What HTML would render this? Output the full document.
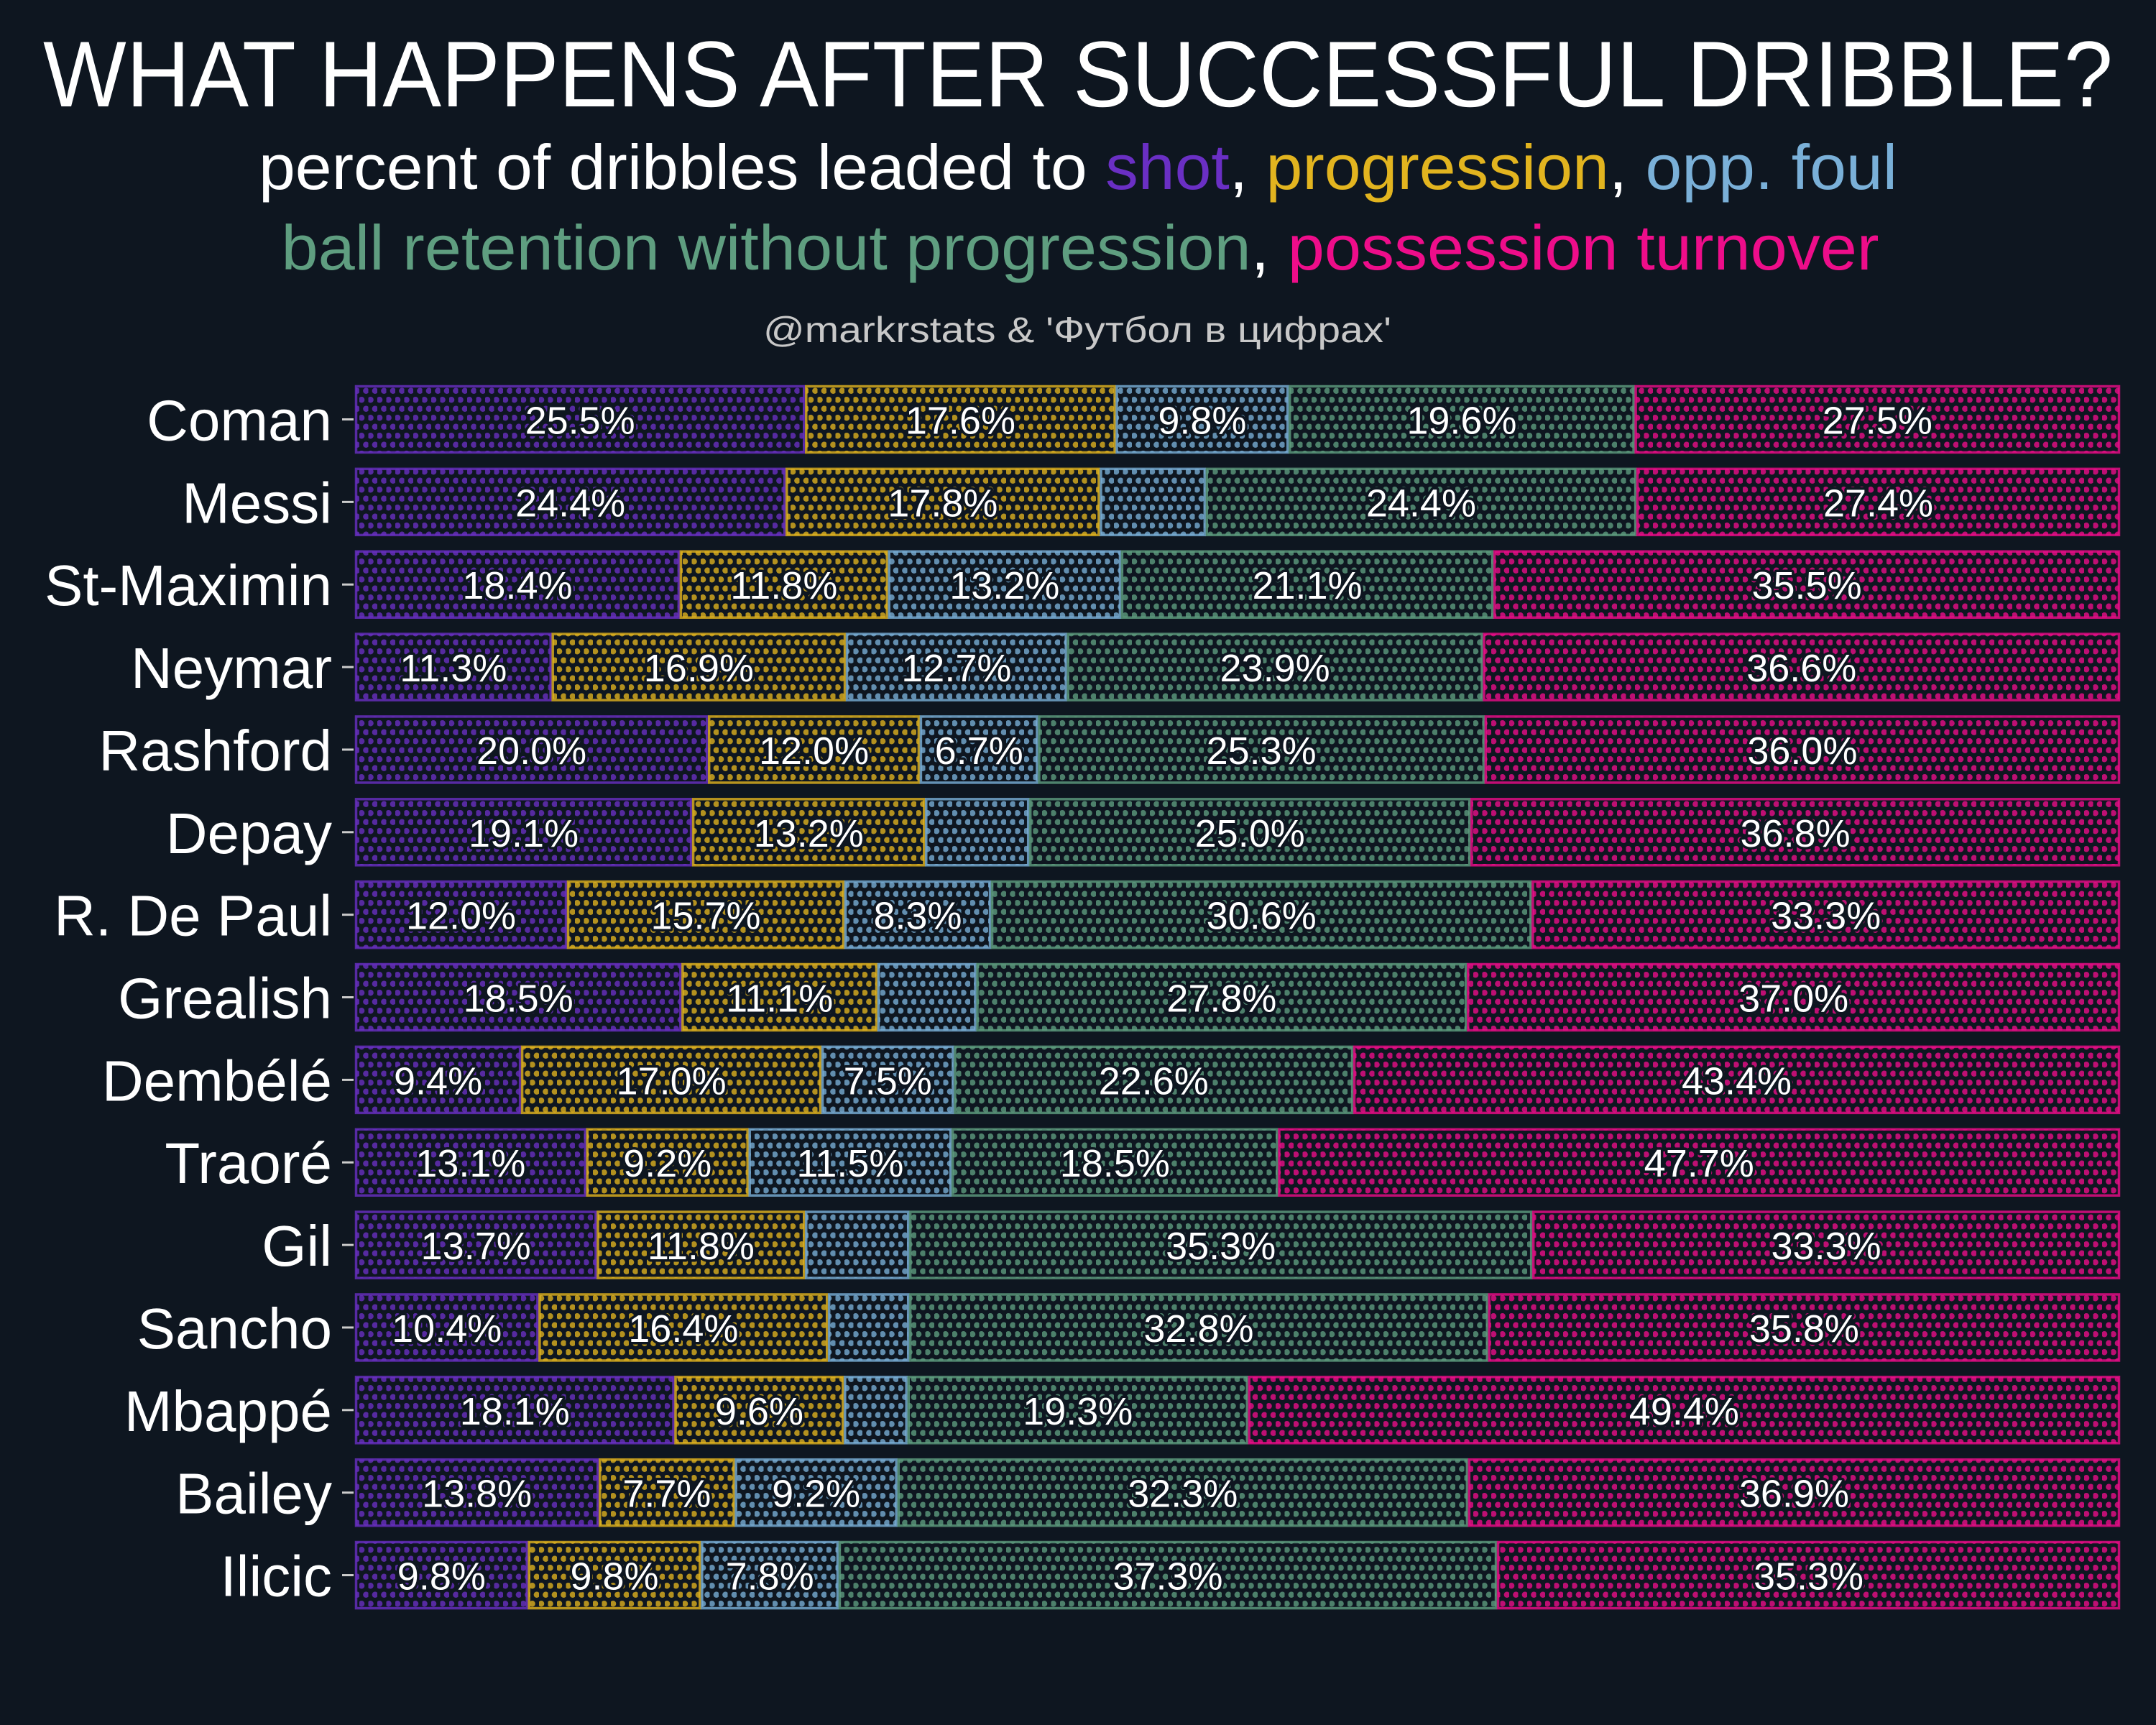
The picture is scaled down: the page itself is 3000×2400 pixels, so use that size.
<!DOCTYPE html>
<html><head><meta charset="utf-8"><style>
html,body{margin:0;padding:0;background:#0e1620;}
svg{display:block;}
text{font-family:"Liberation Sans","DejaVu Sans",sans-serif;}
</style></head><body>
<svg id="chart" width="3000" height="2400" viewBox="0 0 3000 2400" xmlns="http://www.w3.org/2000/svg">
<rect width="3000" height="2400" fill="#0e1620"/>
<defs id="defs"></defs>
<text x="1500" y="148" text-anchor="middle" font-size="130" fill="#ffffff" textLength="2880" lengthAdjust="spacingAndGlyphs">WHAT HAPPENS AFTER SUCCESSFUL DRIBBLE?</text>
<text x="1500" y="263" text-anchor="middle" font-size="88" fill="#ffffff" textLength="2280" lengthAdjust="spacingAndGlyphs">percent of dribbles leaded to <tspan fill="#6a2fc4">shot</tspan>, <tspan fill="#e2b41f">progression</tspan>, <tspan fill="#7ab0d8">opp. foul</tspan></text>
<text x="1503" y="375" text-anchor="middle" font-size="88" fill="#5f9e80" textLength="2223" lengthAdjust="spacingAndGlyphs">ball retention without progression<tspan fill="#ffffff">, </tspan><tspan fill="#ee0d8a">possession turnover</tspan></text>
<text x="1499" y="476" text-anchor="middle" font-size="50" fill="#c8c8c8" textLength="874" lengthAdjust="spacingAndGlyphs">@markrstats &amp; 'Футбол в цифрах'</text>
<g id="plot"></g>
</svg>
<script>
const players = ["Coman","Messi","St-Maximin","Neymar","Rashford","Depay","R. De Paul","Grealish","Dembélé","Traoré","Gil","Sancho","Mbappé","Bailey","Ilicic"];
const shot        = [25.5,24.4,18.4,11.3,20.0,19.1,12.0,18.5, 9.4,13.1,13.7,10.4,18.1,13.8, 9.8];
const progression = [17.6,17.8,11.8,16.9,12.0,13.2,15.7,11.1,17.0, 9.2,11.8,16.4, 9.6, 7.7, 9.8];
const oppFoul     = [ 9.8, 6.0,13.2,12.7, 6.7, 5.9, 8.3, 5.6, 7.5,11.5, 5.9, 4.6, 3.6, 9.2, 7.8];
const retention   = [19.6,24.4,21.1,23.9,25.3,25.0,30.6,27.8,22.6,18.5,35.3,32.8,19.3,32.3,37.3];
const turnover    = [27.5,27.4,35.5,36.6,36.0,36.8,33.3,37.0,43.4,47.7,33.3,35.8,49.4,36.9,35.3];
const seriesNames = ["shot","progression","opp-foul","retention","turnover"];

const colors = ["#6a2fc4","#e2b41f","#7ab0d8","#5f9e80","#ee0d8a"];
const NS = "http://www.w3.org/2000/svg";
const defs = document.getElementById('defs');
const plot = document.getElementById('plot');
const X0 = 494, X1 = 2950, TOP = 536, PITCH = 114.86, BH = 95;
const xScale = (v, total) => X0 + v / total * (X1 - X0);
const yScale = i => TOP + i * PITCH;

colors.forEach((c, k) => {
  const p = document.createElementNS(NS, 'pattern');
  p.setAttribute('id', 'dots' + k);
  p.setAttribute('patternUnits', 'userSpaceOnUse');
  p.setAttribute('width', '12.5'); p.setAttribute('height', '25');
  p.innerHTML = `<rect width="12.5" height="25" fill="#0e1620"/><circle cx="3.1" cy="6.25" r="4.2" fill="${c}" fill-opacity="0.78"/><circle cx="9.35" cy="18.75" r="4.2" fill="${c}" fill-opacity="0.78"/>`;
  defs.appendChild(p);
});

const series = [shot, progression, oppFoul, retention, turnover];
players.forEach((name, i) => {
  const y = yScale(i);
  const total = series.reduce((s, a) => s + a[i], 0);
  const lab = document.createElementNS(NS, 'text');
  
  
  lab.setAttribute('x', 462); lab.setAttribute('y', y + BH / 2 + 29);
  lab.setAttribute('text-anchor', 'end'); lab.setAttribute('font-size', '80');
  lab.setAttribute('fill', '#ffffff');
  lab.textContent = name;
  plot.appendChild(lab);
  const tick = document.createElementNS(NS, 'line');
  
  
  tick.setAttribute('x1', 476); tick.setAttribute('x2', 492);
  tick.setAttribute('y1', y + BH / 2); tick.setAttribute('y2', y + BH / 2);
  tick.setAttribute('stroke', '#cccccc'); tick.setAttribute('stroke-width', '3');
  plot.appendChild(tick);
  let cum = 0;
  series.forEach((arr, k) => {
    const v = arr[i];
    const xa = xScale(cum, total), xb = xScale(cum + v, total);
    const r = document.createElementNS(NS, 'rect');
    
    
    r.setAttribute('x', xa + 1.5); r.setAttribute('y', y + 1.5);
    r.setAttribute('width', Math.max(0, xb - xa - 3)); r.setAttribute('height', BH - 3);
    r.setAttribute('fill', 'url(#dots' + k + ')');
    r.setAttribute('stroke', colors[k]); r.setAttribute('stroke-opacity', '0.8');
    r.setAttribute('stroke-width', '3.5');
    plot.appendChild(r);
    if (v >= 6.5) {
      const t = document.createElementNS(NS, 'text');
      
      
      t.setAttribute('x', (xa + xb) / 2); t.setAttribute('y', y + BH / 2 + 20);
      t.setAttribute('text-anchor', 'middle'); t.setAttribute('font-size', '54');
      t.setAttribute('fill', '#ffffff'); t.setAttribute('stroke', '#0e1620');
      t.setAttribute('stroke-width', '7'); t.setAttribute('paint-order', 'stroke');
      t.setAttribute('stroke-linejoin', 'round');
      t.textContent = v.toFixed(1) + '%';
      plot.appendChild(t);
    }
    cum += v;
  });
});
</script>
</body></html>
